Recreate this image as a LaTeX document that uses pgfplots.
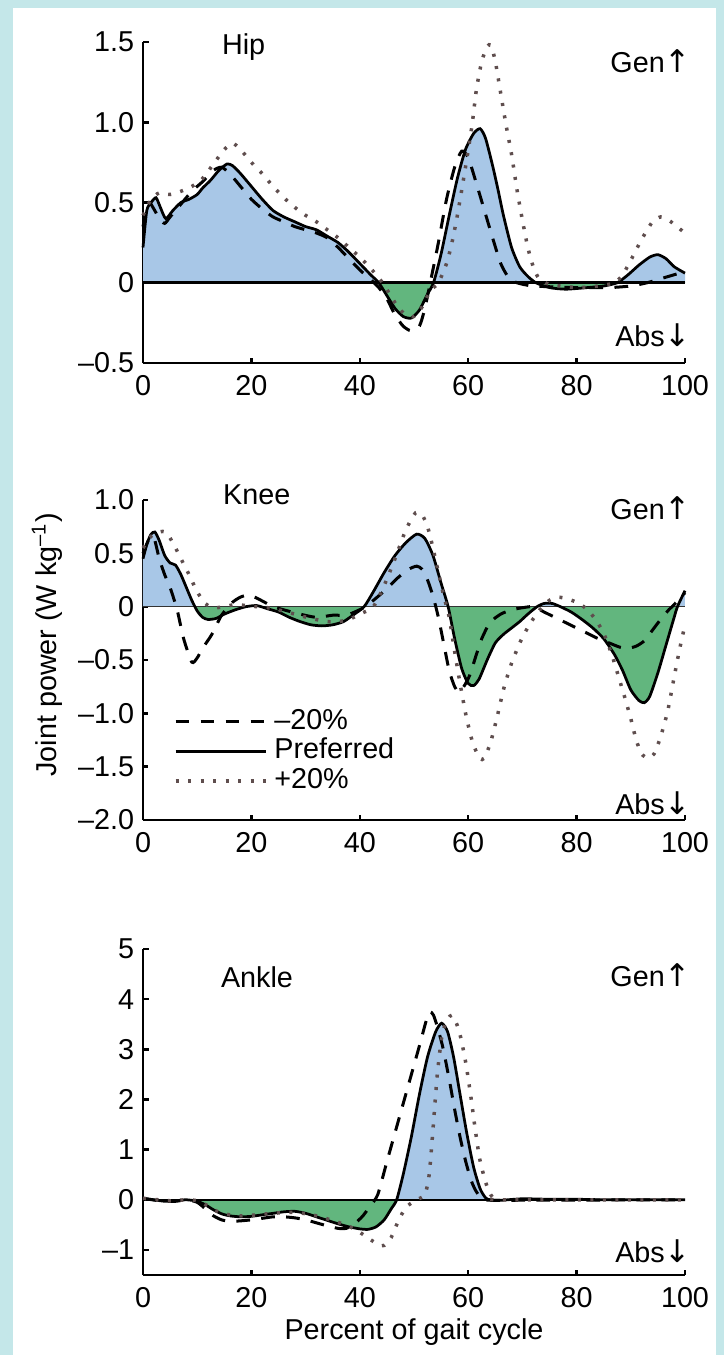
\documentclass[border=0pt]{standalone}
\usepackage{fontspec}
\setmainfont{Liberation Sans}
\newfontfamily\arr{DejaVu Sans}
\usepackage{pgfplots}
\pgfplotsset{compat=1.18}
\usepackage{pgfplotstable}

\definecolor{bgcyan}{RGB}{196,231,233}
\definecolor{posblue}{RGB}{168,199,231}
\definecolor{neggreen}{RGB}{98,182,126}
\definecolor{dotcol}{RGB}{95,78,78}

% ---------- Hip ----------
\pgfplotstableread{
x y
0 0.22
0.7 0.45
1.5 0.50
2.4 0.53
3.2 0.47
4.2 0.40
5.5 0.45
7 0.50
8.5 0.52
10 0.55
11 0.59
12.5 0.64
14 0.70
15.5 0.74
16.5 0.73
18 0.68
20 0.60
22 0.52
24 0.45
26 0.41
28 0.38
30 0.35
32 0.33
34 0.29
36 0.25
38 0.19
40 0.12
42 0.05
43.5 0.00
45 -0.08
46.5 -0.16
48 -0.21
49.5 -0.22
51 -0.17
52.5 -0.07
53.6 0.00
55 0.18
56.5 0.42
58 0.65
59.5 0.83
61 0.93
62.2 0.96
63.2 0.90
64.5 0.73
65.5 0.58
66.5 0.42
68 0.22
69.5 0.10
71 0.04
72.5 0.00
75 -0.03
78 -0.04
82 -0.03
85 -0.02
87.5 0.00
89.5 0.05
91.5 0.11
93.5 0.16
95 0.175
96.5 0.15
98 0.10
100 0.06
}\hipP

\pgfplotstableread{
x y
0 0.35
1 0.50
2 0.46
3 0.40
4 0.37
5 0.41
7 0.49
9 0.57
11 0.63
13 0.70
14.5 0.72
16 0.68
18 0.60
20 0.52
22 0.46
24 0.41
26 0.38
28 0.35
30 0.33
32 0.31
34 0.28
36 0.22
38 0.15
40 0.08
42 0.02
43.5 -0.03
45 -0.10
46.5 -0.20
48 -0.27
49.5 -0.30
51 -0.27
52 -0.16
53 0.00
54.5 0.25
56 0.52
57.5 0.72
58.8 0.82
60 0.78
61.5 0.62
63 0.45
64.5 0.28
66 0.12
67.5 0.03
69 0.00
72 -0.02
80 -0.03
86 -0.03
90 -0.02
93 0.00
96 0.03
98 0.05
100 0.07
}\hipD

\pgfplotstableread{
x y
0 0.42
1.5 0.52
3 0.56
5 0.55
7 0.57
9 0.60
11 0.65
13 0.74
15 0.83
16.5 0.87
18 0.83
20 0.75
22 0.68
24 0.60
26 0.53
28 0.47
30 0.42
32 0.38
34 0.33
36 0.28
38 0.22
40 0.16
42 0.09
44.2 0.00
45.5 -0.07
47 -0.15
48.5 -0.20
50 -0.21
51.5 -0.15
53 -0.05
54.5 0.00
56 0.12
57 0.25
58 0.42
59.5 0.72
60.7 0.98
61.5 1.20
62.5 1.38
63.5 1.47
64.2 1.48
65 1.38
66 1.18
67 0.98
68 0.80
69 0.58
70 0.39
71 0.22
72 0.10
73 0.03
75 -0.01
80 -0.03
84 -0.02
87 0.00
88.5 0.05
90 0.14
92 0.27
94 0.38
95.5 0.41
97 0.39
98.5 0.35
100 0.31
}\hipT

% ---------- Knee ----------
\pgfplotstableread{
x y
0 0.45
0.8 0.60
1.5 0.68
2.2 0.70
3 0.62
4 0.48
5 0.41
6 0.39
7 0.30
8 0.18
9 0.06
10 -0.04
11 -0.10
12 -0.12
13.5 -0.11
15 -0.07
17 -0.03
19 0.00
21 0.01
23 -0.02
25 -0.05
27 -0.10
29 -0.14
31 -0.17
33 -0.18
35 -0.17
37 -0.14
39 -0.07
40.8 0.00
42.5 0.14
44.5 0.32
46.5 0.48
48.5 0.60
50.5 0.68
52 0.64
53.5 0.48
55 0.22
56.3 0.00
57.5 -0.30
58.8 -0.58
60 -0.72
61 -0.74
62 -0.68
63.5 -0.50
65 -0.34
66.5 -0.26
68 -0.20
69.5 -0.14
71 -0.07
72.7 0.00
74 0.03
75.5 0.03
77 0.00
79 -0.05
81 -0.12
83 -0.20
85 -0.30
87 -0.45
88.5 -0.60
90 -0.78
91.5 -0.88
92.5 -0.90
93.5 -0.84
95 -0.62
96.5 -0.36
98 -0.10
98.6 0.00
100 0.15
}\kneeP

\pgfplotstableread{
x y
0 0.50
1 0.62
2 0.65
3 0.45
4 0.30
5 0.18
6.3 -0.03
7.5 -0.30
9 -0.52
10 -0.48
11 -0.39
12.7 -0.26
14.5 -0.08
16.5 0.04
18 0.09
19.5 0.11
21 0.08
22.5 0.04
24 0.00
26 -0.03
29 -0.07
32 -0.10
35 -0.08
37.5 -0.08
39.5 -0.04
41 0.00
43 0.08
45 0.17
47 0.27
49 0.35
50.5 0.38
51.5 0.35
52.5 0.25
53.5 0.10
54.5 -0.10
55.5 -0.35
56.5 -0.60
57.5 -0.75
58.3 -0.80
59.3 -0.74
60.3 -0.64
61.5 -0.45
62.5 -0.30
64 -0.15
66 -0.07
68 -0.03
70 -0.01
72 0.00
74 -0.05
76 -0.10
78 -0.15
80 -0.20
82 -0.25
84 -0.30
86 -0.34
88 -0.38
89.5 -0.39
91 -0.37
92.5 -0.32
94 -0.22
95.5 -0.12
97 -0.03
98 0.02
100 0.13
}\kneeD

\pgfplotstableread{
x y
0 0.55
1.5 0.66
3 0.70
4.2 0.70
5.5 0.60
7 0.45
8.5 0.30
10 0.14
11.5 0.03
13 -0.01
15 0.00
17 0.02
19 0.01
21 0.00
23 -0.01
25 -0.03
28 -0.07
31 -0.11
34 -0.14
36 -0.14
38 -0.12
40 -0.07
42.5 0.00
44.5 0.20
46.5 0.45
48.5 0.72
50.3 0.88
51.5 0.86
52.5 0.75
53.5 0.55
54.5 0.32
55.5 0.10
56.5 -0.10
57.5 -0.42
58.5 -0.72
59.6 -1.02
60.8 -1.27
62.1 -1.42
63 -1.42
64.2 -1.26
65.4 -1.02
66.6 -0.76
68 -0.53
69.7 -0.32
71.4 -0.16
73.2 -0.03
75 0.06
76.5 0.09
78.5 0.07
80.5 0.03
82 -0.03
83.5 -0.12
85 -0.25
86.5 -0.45
88 -0.70
89 -0.87
90 -1.05
91 -1.25
92 -1.38
93.2 -1.42
94.3 -1.38
95.5 -1.22
96.8 -0.98
98 -0.66
99 -0.40
100 -0.17
}\kneeT

% ---------- Ankle ----------
\pgfplotstableread{
x y
0 0.03
2 0.00
4 -0.03
6 -0.02
8 0.00
10 -0.03
11.5 -0.10
13 -0.20
14.5 -0.28
16 -0.32
18 -0.34
20 -0.33
22 -0.30
24 -0.27
26 -0.24
28 -0.23
30 -0.27
32 -0.34
34 -0.41
36 -0.48
38 -0.54
40 -0.58
41.5 -0.59
43 -0.54
44.5 -0.40
45.8 -0.18
46.8 0.00
48 0.50
49.5 1.25
51 2.10
52.5 2.85
54 3.35
55.1 3.52
56.2 3.35
57.3 2.85
58.5 2.10
59.7 1.35
61 0.65
62.2 0.22
63.2 0.04
64 0.00
66 -0.01
70 0.02
75 0.01
80 0.01
85 0.00
90 0.00
100 0.00
}\ankleP

\pgfplotstableread{
x y
0 0.03
3 -0.02
6 -0.03
8 0.00
10 -0.05
11.5 -0.18
13 -0.32
14.5 -0.40
16 -0.43
18 -0.42
20 -0.40
22 -0.37
24 -0.34
26 -0.34
28 -0.36
30 -0.40
32 -0.46
34 -0.52
36 -0.57
37.5 -0.57
39 -0.48
40.5 -0.33
41.8 -0.14
43.3 0.10
45 0.76
47 1.53
49 2.30
51 3.07
52.2 3.55
52.9 3.75
53.6 3.68
54.3 3.45
55.3 3.05
56.5 2.40
57.5 1.80
58.5 1.25
59.5 0.78
60.5 0.40
61.3 0.20
62.3 0.04
63 0.00
66 -0.01
100 0.00
}\ankleD

\pgfplotstableread{
x y
0 0.03
5 -0.02
8 0.00
10 -0.02
12 -0.12
14 -0.25
16 -0.30
18 -0.32
20 -0.31
24 -0.27
28 -0.25
32 -0.32
36 -0.45
39 -0.58
41.5 -0.76
43.5 -0.90
44.5 -0.91
45.8 -0.75
47 -0.45
48.5 -0.15
50.5 0.00
52 0.10
52.8 0.50
53.5 1.40
54.3 2.50
55.2 3.30
56.2 3.60
57 3.68
57.9 3.50
58.7 3.20
59.6 2.70
60.5 2.05
61.3 1.40
62.1 0.83
63 0.43
63.8 0.17
64.5 0.05
65.5 0.00
100 0.00
}\ankleT

\newcommand{\lfont}{\fontsize{11.5}{13.5}\selectfont}
\newcommand{\up}{{\arr\fontsize{12.5}{13.5}\selectfont ↑}}
\newcommand{\down}{{\arr\fontsize{12.5}{13.5}\selectfont ↓}}

\pgfplotsset{
  gait/.style={
    scale only axis, width=216.8pt,
    xmin=0, xmax=100,
    axis x line*=bottom, axis y line*=left,
    axis line style={-, line width=1.1pt, black},
    tick align=inside, major tick length=2.2pt,
    tick style={line width=1pt, black},
    xtick={0,20,40,60,80,100},
    xticklabels={0,20,40,60,80,100},
    xticklabel style={yshift=-1.5pt},
    tick label style={font=\lfont},
    label style={font=\lfont},
    clip=false,
    anchor=south west,
  },
  pref/.style={black, line width=1.1pt, smooth, tension=0.4},
  minus/.style={black, line width=1.2pt, dash pattern=on 5.5pt off 4.5pt, smooth, tension=0.4},
  plus/.style={dotcol, line width=1.4pt, dash pattern=on 1.2pt off 3.8pt, smooth, tension=0.4},
  posfill/.style={fill=posblue, draw=none, forget plot, smooth, tension=0.4},
  negfill/.style={fill=neggreen, draw=none, forget plot, smooth, tension=0.4},
}

\begin{document}
\begin{tikzpicture}[font=\lfont]
% cyan frame (left, right, top strips); interior stays white
\fill[bgcyan] (0,0) rectangle (5.2pt,542pt);
\fill[bgcyan] (286.4pt,0) rectangle (289.6pt,542pt);
\fill[bgcyan] (0,538.8pt) rectangle (289.6pt,542pt);

% ================= HIP =================
\begin{axis}[gait, at={(57.2pt,396.8pt)}, height=128.4pt,
  ymin=-0.5, ymax=1.5,
  ytick={-0.5,0,0.5,1,1.5}, yticklabels={–0.5,0,0.5,1.0,1.5}]
\begin{scope}
\clip (axis cs:0,0) rectangle (axis cs:100,10);
\addplot[posfill] table {\hipP} -- (axis cs:100,0) -- (axis cs:0,0) -- cycle;
\end{scope}
\begin{scope}
\clip (axis cs:0,-10) rectangle (axis cs:100,0);
\addplot[negfill] table {\hipP} -- (axis cs:100,0) -- (axis cs:0,0) -- cycle;
\end{scope}
\addplot[black, line width=1.1pt, forget plot] coordinates {(0,0) (100,0)};
\addplot[minus] table {\hipD};
\addplot[pref] table {\hipP};
\addplot[plus] table {\hipT};
\node[anchor=west, inner sep=0pt] at (axis cs:14.5,1.47) {Hip};
\node[anchor=east, inner sep=0pt] at (axis cs:101.2,1.38) {Gen\up};
\node[anchor=east, inner sep=0pt] at (axis cs:101.2,-0.33) {Abs\down};
\end{axis}

% ================= KNEE =================
\begin{axis}[gait, at={(57.2pt,214pt)}, height=128pt,
  ymin=-2, ymax=1,
  ytick={-2,-1.5,-1,-0.5,0,0.5,1}, yticklabels={–2.0,–1.5,–1.0,–0.5,0,0.5,1.0},
  ylabel={Joint power (W kg\textsuperscript{–1})},
  ylabel style={at={(axis description cs:-0.177,0.547)}, anchor=center},
  legend style={at={(axis cs:5.7,-0.96)}, anchor=north west, draw=none, fill=none,
    inner sep=0pt, outer sep=0pt, row sep=1.6pt, column sep=2.8pt,
    nodes={inner sep=0pt, text height=8pt, text depth=2.2pt}, font=\lfont},
  legend cell align=left,
  legend image code/.code={\draw[#1] (0pt,0pt) -- (36pt,0pt);}]
\begin{scope}
\clip (axis cs:0,0) rectangle (axis cs:100,10);
\addplot[posfill] table {\kneeP} -- (axis cs:100,0) -- (axis cs:0,0) -- cycle;
\end{scope}
\begin{scope}
\clip (axis cs:0,-10) rectangle (axis cs:100,0);
\addplot[negfill] table {\kneeP} -- (axis cs:100,0) -- (axis cs:0,0) -- cycle;
\end{scope}
\addplot[black!80, line width=0.6pt, forget plot] coordinates {(0,0) (100,0)};
\addplot[minus] table {\kneeD};
\addlegendentry{–20\%}
\addplot[pref] table {\kneeP};
\addlegendentry{Preferred}
\addplot[plus] table {\kneeT};
\addlegendentry{+20\%}
\node[anchor=west, inner sep=0pt] at (axis cs:14.7,1.05) {Knee};
\node[anchor=east, inner sep=0pt] at (axis cs:101.2,0.92) {Gen\up};
\node[anchor=east, inner sep=0pt] at (axis cs:101.2,-1.84) {Abs\down};
\end{axis}

% ================= ANKLE =================
\begin{axis}[gait, at={(57.2pt,32pt)}, height=130.4pt,
  ymin=-1.5, ymax=5,
  ytick={-1,0,1,2,3,4,5}, yticklabels={–1,0,1,2,3,4,5},
  xlabel={Percent of gait cycle},
  xlabel style={at={(axis description cs:0.5,-0.175)}, anchor=center}]
\begin{scope}
\clip (axis cs:0,0) rectangle (axis cs:100,10);
\addplot[posfill] table {\ankleP} -- (axis cs:100,0) -- (axis cs:0,0) -- cycle;
\end{scope}
\begin{scope}
\clip (axis cs:0,-10) rectangle (axis cs:100,0);
\addplot[negfill] table {\ankleP} -- (axis cs:100,0) -- (axis cs:0,0) -- cycle;
\end{scope}
\addplot[black, line width=0.9pt, forget plot] coordinates {(0,0) (100,0)};
\addplot[minus] table {\ankleD};
\addplot[pref] table {\ankleP};
\addplot[plus] table {\ankleT};
\node[anchor=west, inner sep=0pt] at (axis cs:14.3,4.44) {Ankle};
\node[anchor=east, inner sep=0pt] at (axis cs:101.2,4.48) {Gen\up};
\node[anchor=east, inner sep=0pt] at (axis cs:101.2,-1.02) {Abs\down};
\end{axis}

\pgfresetboundingbox
\useasboundingbox (0,0) rectangle (289.6pt,542pt);
\end{tikzpicture}
\end{document}
